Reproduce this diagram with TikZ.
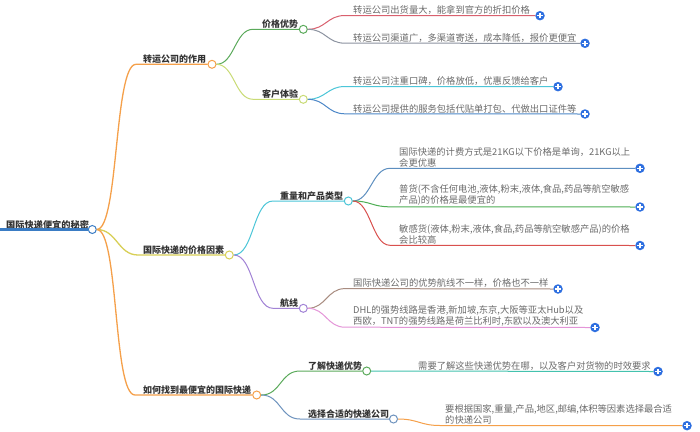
\documentclass[tikz,border=0pt]{standalone}
\usepackage{fontspec}
\setmainfont{Noto Sans CJK SC}
\definecolor{rootc}{HTML}{3A7CC4}
\definecolor{orangec}{HTML}{F5A04A}
\definecolor{yellowc}{HTML}{D8CF55}
\definecolor{greenc}{HTML}{5BAA5B}
\definecolor{ygreenc}{HTML}{C9DB75}
\definecolor{redA}{HTML}{D9606E}
\definecolor{greyA}{HTML}{8C93A0}
\definecolor{cyanc}{HTML}{4CC6D8}
\definecolor{blueA}{HTML}{4E88C8}
\definecolor{purplec}{HTML}{A283D6}
\definecolor{blueB}{HTML}{5D8FC0}
\definecolor{greenB}{HTML}{4DAE54}
\definecolor{redB}{HTML}{D9504E}
\definecolor{brownc}{HTML}{A88C80}
\definecolor{pinkc}{HTML}{E495D8}
\definecolor{tealc}{HTML}{44C2AE}
\definecolor{steelc}{HTML}{6E93BE}
\definecolor{plusblue}{HTML}{2E6FE0}
\definecolor{headc}{HTML}{333333}
\definecolor{leafc}{HTML}{6B6B6B}
\begin{document}
\begin{tikzpicture}[x=1pt,y=-1pt,
  hub/.style={circle,draw,fill=white,line width=1pt,minimum size=8pt,inner sep=0pt},
  plusicon/.style={circle,fill=plusblue,minimum size=9.5pt,inner sep=0pt,
    path picture={\draw[white,line width=1.1pt]
      ([xshift=-2.6pt]path picture bounding box.center) -- ([xshift=2.6pt]path picture bounding box.center)
      ([yshift=-2.6pt]path picture bounding box.center) -- ([yshift=2.6pt]path picture bounding box.center);}},
  head/.style={anchor=base west,inner sep=0pt,font=\bfseries\fontsize{9}{11}\selectfont,text=headc},
  leaf/.style={anchor=south west,inner sep=0pt,align=left,font=\fontsize{9.3}{11}\selectfont,text=leafc},
  link/.style={line width=1pt},
  lone/.style={line width=1.3pt},
]
\path[use as bounding box,fill=white] (0,0) rectangle (700,431);

% root
\coordinate (rs) at (0,229.5);
\node[hub,draw=rootc] (R) at (92.3,229.5) {};
\node[head,font=\bfseries\fontsize{9.2}{11}\selectfont] (Rt) at (6,228) {国际快递便宜的秘密};
\draw[rootc,line width=2.5pt] (rs) -- (R.west);

% level 1
\coordinate (k1a) at (136,64.3);
\node[hub,draw=orangec] (A) at (212,64.3) {};
\node[head] (At) at (143,62.7) {转运公司的作用};
\coordinate (k1b) at (138,255);
\node[hub,draw=yellowc] (B) at (229.3,255) {};
\node[head] (Bt) at (143,253.4) {国际快递的价格因素};
\coordinate (k1c) at (135,395);
\node[hub,draw=orangec] (C) at (256.7,395) {};
\node[head] (Ct) at (143,393.4) {如何找到最便宜的国际快递};

\draw[lone,orangec] (R.east) .. controls +(22,0) and +(-22,0) .. (k1a) -- (A.west);
\draw[lone,yellowc] (R.east) .. controls +(20,0) and +(-20,0) .. (k1b) -- (B.west);
\draw[lone,orangec] (R.east) .. controls +(22,0) and +(-22,0) .. (k1c) -- (C.west);

% level 2
\coordinate (kP) at (253,29.3);
\node[hub,draw=greenc] (P) at (303.3,29.3) {};
\node[head] (Pt) at (262,27.7) {价格优势};
\coordinate (kK) at (253,99.3);
\node[hub,draw=ygreenc] (K) at (303.3,99.3) {};
\node[head] (Kt) at (262,97.7) {客户体验};
\coordinate (kW) at (273,201);
\node[hub,draw=cyanc] (W) at (348.3,201) {};
\node[head] (Wt) at (280,199.4) {重量和产品类型};
\coordinate (kH) at (273,308.3);
\node[hub,draw=purplec] (H) at (303.3,308.3) {};
\node[head] (Ht) at (280,306.7) {航线};
\coordinate (kU) at (300,371);
\node[hub,draw=greenc] (U) at (366.7,371) {};
\node[head] (Ut) at (308,369.4) {了解快递优势};
\coordinate (kS) at (300,419);
\node[hub,draw=steelc] (S) at (393.5,419) {};
\node[head] (St) at (308,417.4) {选择合适的快递公司};

\draw[link,greenc] (A.east) .. controls +(18,0) and +(-18,0) .. (kP) -- (P.west);
\draw[link,ygreenc] (A.east) .. controls +(18,0) and +(-18,0) .. (kK) -- (K.west);
\draw[link,cyanc] (B.east) .. controls +(20,0) and +(-20,0) .. (kW) -- (W.west);
\draw[link,purplec] (B.east) .. controls +(20,0) and +(-20,0) .. (kH) -- (H.west);
\draw[link,greenc] (C.east) .. controls +(20,0) and +(-20,0) .. (kU) -- (U.west);
\draw[link,steelc] (C.east) .. controls +(20,0) and +(-20,0) .. (kS) -- (S.west);

% leaves
\coordinate (k1) at (345,15.5);
\node[plusicon] (p1) at (540,15.7) {};
\node[leaf] (l1) at (353,14.7) {转运公司出货量大，能拿到官方的折扣价格};
\coordinate (k2) at (345,43.2);
\node[plusicon] (p2) at (585,43.3) {};
\node[leaf] (l2) at (353,42.4) {转运公司渠道广，多渠道寄送，成本降低，报价更便宜};
\coordinate (k3) at (345,86.5);
\node[plusicon] (p3) at (558,86.7) {};
\node[leaf] (l3) at (353,85.7) {转运公司注重口碑，价格放低，优惠反馈给客户};
\coordinate (k4) at (345,113.8);
\node[plusicon] (p4) at (585,114) {};
\node[leaf] (l4) at (353,113) {转运公司提供的服务包括代贴单打包、代做出口证件等};
\coordinate (k5) at (390,168.3);
\node[plusicon] (p5) at (640,168.3) {};
\node[leaf] (l5) at (399,167.5) {国际快递的计费方式是21KG以下价格是单询，21KG以上\\会更优惠};
\coordinate (k6) at (390,206.8);
\node[plusicon] (p6) at (640,207) {};
\node[leaf] (l6) at (399,206) {普货(不含任何电池,液体,粉末,液体,食品,药品等航空敏感\\产品)的价格是最便宜的};
\coordinate (k7) at (390,245.3);
\node[plusicon] (p7) at (640,245.5) {};
\node[leaf] (l7) at (399,244.5) {敏感货(液体,粉末,液体,食品,药品等航空敏感产品)的价格\\会比较高};
\coordinate (k8) at (345,288.6);
\node[plusicon] (p8) at (558,289) {};
\node[leaf] (l8) at (353,287.8) {国际快递公司的优势航线不一样，价格也不一样};
\coordinate (k9) at (345,327.2);
\node[plusicon] (p9) at (595,327.5) {};
\node[leaf] (l9) at (353,326.4) {DHL的强势线路是香港,新加坡,东京,大阪等亚太Hub以及\\西欧，TNT的强势线路是荷兰比利时,东欧以及澳大利亚};
\node[plusicon] (p10) at (658,371.5) {};
\node[leaf] (l10) at (418,370.2) {需要了解这些快递优势在哪，以及客户对货物的时效要求};
\coordinate (k11) at (440,425.5);
\node[plusicon] (p11) at (687,425.7) {};
\node[leaf] (l11) at (445,424.7) {要根据国家,重量,产品,地区,邮编,体积等因素选择最合适\\的快递公司};

\draw[link,redA] (P.east) .. controls +(18,0) and +(-18,0) .. (k1) -- (p1.west);
\draw[link,greyA] (P.east) .. controls +(18,0) and +(-18,0) .. (k2) -- (p2.west);
\draw[link,cyanc] (K.east) .. controls +(18,0) and +(-18,0) .. (k3) -- (p3.west);
\draw[link,blueA] (K.east) .. controls +(18,0) and +(-18,0) .. (k4) -- (p4.west);
\draw[link,blueB] (W.east) .. controls +(18,0) and +(-18,0) .. (k5) -- (p5.west);
\draw[link,greenB] (W.east) .. controls +(18,0) and +(-18,0) .. (k6) -- (p6.west);
\draw[link,redB] (W.east) .. controls +(18,0) and +(-18,0) .. (k7) -- (p7.west);
\draw[link,brownc] (H.east) .. controls +(18,0) and +(-18,0) .. (k8) -- (p8.west);
\draw[link,pinkc] (H.east) .. controls +(18,0) and +(-18,0) .. (k9) -- (p9.west);
\draw[link,tealc] (U.east) -- (p10.west);
\draw[link,orangec] (S.east) .. controls +(20,0) and +(-20,0) .. (k11) -- (p11.west);
\end{tikzpicture}
\end{document}
